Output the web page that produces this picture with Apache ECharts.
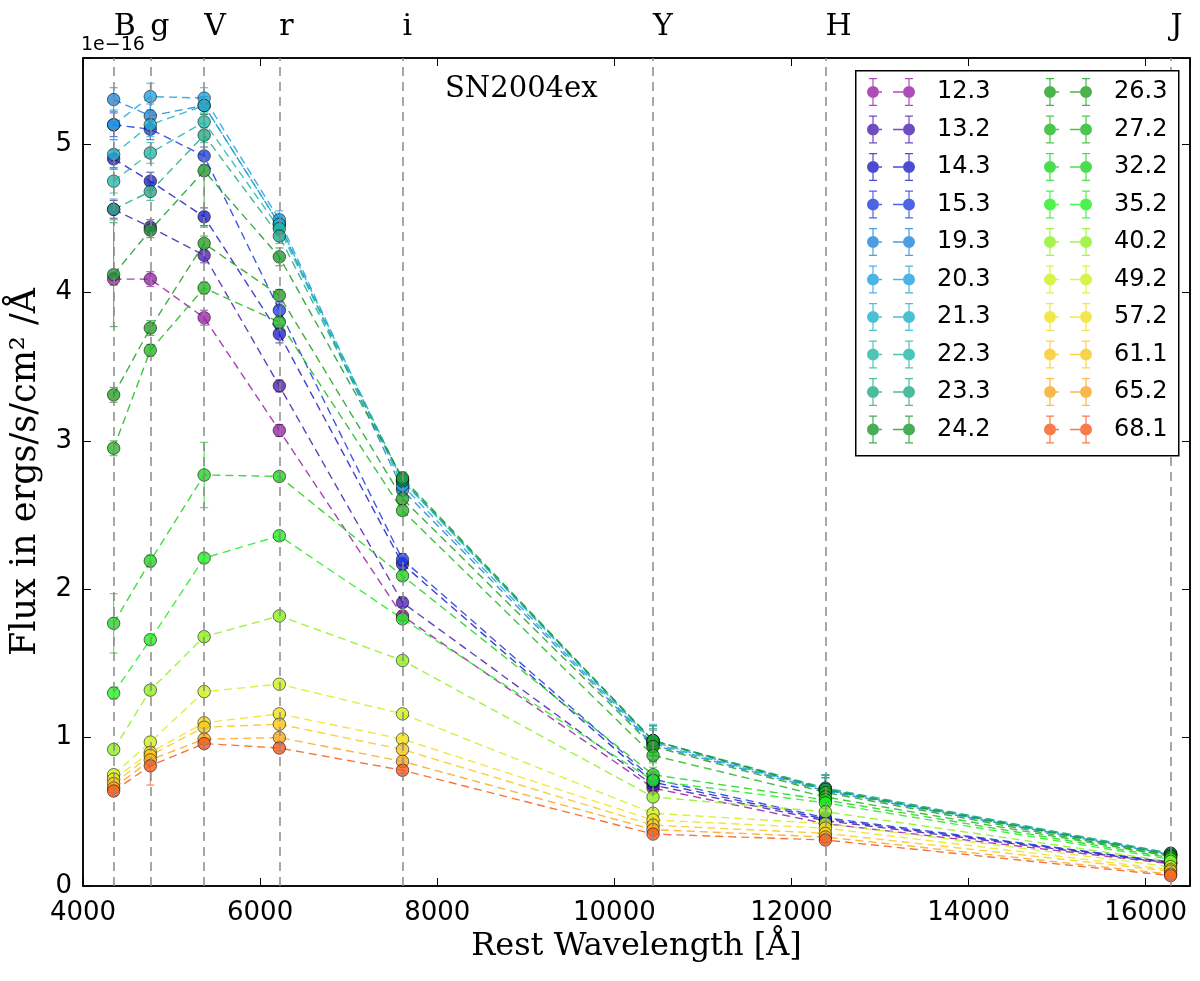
<!DOCTYPE html>
<html>
<head>
<meta charset="utf-8">
<title>SN2004ex</title>
<script src="https://cdn.jsdelivr.net/npm/echarts@6/dist/echarts.min.js"></script>
<style>
  html, body { margin: 0; padding: 0; background: #fff; }
  #chart { width: 1200px; height: 981px; }
</style>
</head>
<body>
<div id="chart"></div>
<script>
document.addEventListener('DOMContentLoaded', function() {

    // filters and their rest wavelengths (Angstrom)
    const bands = ['B', 'g', 'V', 'r', 'i', 'Y', 'H', 'J'];
    const bandWave = [4346, 4760, 5368, 6217, 7608, 10437, 12383, 16281];

    // epochs (days) shown in the legend
    const phases = ['12.3', '13.2', '14.3', '15.3', '19.3', '20.3', '21.3', '22.3', '23.3', '24.2',
                    '26.3', '27.2', '32.2', '35.2', '40.2', '49.2', '57.2', '61.1', '65.2', '68.1'];

    // flux per band, units of 1e-16 ergs/s/cm2/A  (B g V r i Y H J)
    const f12_3 = [4.09, 4.09, 3.83, 3.07, 1.82, 0.66, 0.42, 0.15];
    const f13_2 = [4.56, 4.44, 4.25, 3.37, 1.91, 0.68, 0.44, 0.155];
    const f14_3 = [4.90, 4.75, 4.51, 3.72, 2.17, 0.70, 0.45, 0.16];
    const f15_3 = [5.13, 5.10, 4.92, 3.88, 2.20, 0.72, 0.46, 0.16];
    const f19_3 = [5.30, 5.19, 5.26, 4.46, 2.67, 0.95, 0.64, 0.21];
    const f20_3 = [5.13, 5.32, 5.31, 4.49, 2.70, 0.96, 0.645, 0.21];
    const f21_3 = [4.93, 5.13, 5.26, 4.46, 2.73, 0.97, 0.65, 0.215];
    const f22_3 = [4.75, 4.94, 5.15, 4.43, 2.73, 0.98, 0.655, 0.22];
    const f23_3 = [4.56, 4.68, 5.06, 4.38, 2.74, 0.98, 0.66, 0.22];
    const f24_2 = [4.12, 4.42, 4.82, 4.24, 2.75, 0.98, 0.65, 0.21];
    const f26_3 = [3.31, 3.76, 4.33, 3.98, 2.61, 0.94, 0.63, 0.20];
    const f27_2 = [2.95, 3.61, 4.03, 3.80, 2.53, 0.88, 0.60, 0.20];
    const f32_2 = [1.77, 2.19, 2.77, 2.76, 2.09, 0.75, 0.58, 0.19];
    const f35_2 = [1.30, 1.66, 2.21, 2.36, 1.80, 0.71, 0.56, 0.18];
    const f40_2 = [0.92, 1.32, 1.68, 1.82, 1.52, 0.60, 0.50, 0.165];
    const f49_2 = [0.75, 0.97, 1.31, 1.36, 1.16, 0.49, 0.42, 0.13];
    const f57_2 = [0.72, 0.90, 1.10, 1.16, 0.99, 0.445, 0.39, 0.11];
    const f61_1 = [0.69, 0.88, 1.07, 1.09, 0.92, 0.41, 0.355, 0.10];
    const f65_2 = [0.66, 0.85, 0.99, 1.00, 0.84, 0.38, 0.33, 0.08];
    const f68_1 = [0.64, 0.81, 0.96, 0.93, 0.78, 0.35, 0.31, 0.07];

    // 1-sigma errors, same units and order
    const e12_3 = [0.04, 0.05, 0.05, 0.04, 0.03, 0.04, 0.03, 0.01];
    const e13_2 = [0.06, 0.05, 0.05, 0.04, 0.03, 0.04, 0.03, 0.01];
    const e14_3 = [0.06, 0.06, 0.06, 0.06, 0.04, 0.04, 0.03, 0.01];
    const e15_3 = [0.08, 0.07, 0.06, 0.05, 0.04, 0.05, 0.03, 0.01];
    const e19_3 = [0.08, 0.08, 0.06, 0.05, 0.04, 0.10, 0.09, 0.02];
    const e20_3 = [0.10, 0.09, 0.07, 0.06, 0.04, 0.12, 0.10, 0.02];
    const e21_3 = [0.10, 0.08, 0.06, 0.06, 0.04, 0.12, 0.10, 0.02];
    const e22_3 = [0.08, 0.07, 0.06, 0.05, 0.04, 0.10, 0.09, 0.02];
    const e23_3 = [0.07, 0.06, 0.05, 0.05, 0.04, 0.10, 0.09, 0.02];
    const e24_2 = [0.35, 0.05, 0.38, 0.06, 0.04, 0.08, 0.08, 0.02];
    const e26_3 = [0.05, 0.05, 0.05, 0.04, 0.04, 0.06, 0.06, 0.02];
    const e27_2 = [0.05, 0.04, 0.04, 0.04, 0.03, 0.05, 0.05, 0.02];
    const e32_2 = [0.20, 0.04, 0.22, 0.03, 0.03, 0.05, 0.05, 0.01];
    const e35_2 = [0.04, 0.03, 0.03, 0.03, 0.03, 0.04, 0.04, 0.01];
    const e40_2 = [0.03, 0.03, 0.03, 0.02, 0.02, 0.02, 0.02, 0.01];
    const e49_2 = [0.03, 0.03, 0.03, 0.02, 0.02, 0.02, 0.02, 0.01];
    const e57_2 = [0.03, 0.03, 0.03, 0.02, 0.02, 0.02, 0.02, 0.01];
    const e61_1 = [0.03, 0.03, 0.03, 0.02, 0.02, 0.02, 0.02, 0.01];
    const e65_2 = [0.03, 0.03, 0.03, 0.02, 0.02, 0.02, 0.02, 0.01];
    const e68_1 = [0.03, 0.13, 0.03, 0.02, 0.02, 0.02, 0.02, 0.01];

    const colors = ['#9b1fa8', '#4b1fb0', '#1f1fc8', '#1f3de0', '#1f86d8', '#1fa0e0', '#1fb0c8',
                    '#1fb8a8', '#1faa85', '#1a9a2a', '#1fa01f', '#1fb81f', '#1fd41f', '#1ff01f',
                    '#8ef01f', '#cff01f', '#f0e01f', '#f8c81f', '#f8a81f', '#f85a1f'];

    const fluxes = [f12_3, f13_2, f14_3, f15_3, f19_3, f20_3, f21_3, f22_3, f23_3, f24_2,
                    f26_3, f27_2, f32_2, f35_2, f40_2, f49_2, f57_2, f61_1, f65_2, f68_1];
    const errors = [e12_3, e13_2, e14_3, e15_3, e19_3, e20_3, e21_3, e22_3, e23_3, e24_2,
                    e26_3, e27_2, e32_2, e35_2, e40_2, e49_2, e57_2, e61_1, e65_2, e68_1];

    const serif = 'DejaVu Serif';
    const sans = 'DejaVu Sans';

    // errorbar look-alike legend icon: marker, bar, caps, dash, marker
    const legendIcon = 'path://' +
        'M0,14a6,6 0 1,1 12,0a6,6 0 1,1 -12,0z' +
        'M36,14a6,6 0 1,1 12,0a6,6 0 1,1 -12,0z' +
        'M5.4,0.5h1.2v27h-1.2z M41.4,0.5h1.2v27h-1.2z' +
        'M2,0h8v1.2h-8z M2,26.8h8v1.2h-8z M38,0h8v1.2h-8z M38,26.8h8v1.2h-8z' +
        'M12,13.3h3v1.4h-3z M26,13.3h10v1.4h-10z';

    const renderErr = (params, api) => {
        const x = api.value(0);
        const lo = api.coord([x, api.value(1)]);
        const hi = api.coord([x, api.value(2)]);
        const style = { stroke: api.visual('color'), lineWidth: 1.2, opacity: 0.7 };
        return {
            type: 'group',
            children: [
                { type: 'line', shape: { x1: lo[0], y1: lo[1], x2: hi[0], y2: hi[1] }, style: style },
                { type: 'line', shape: { x1: lo[0] - 4, y1: lo[1], x2: lo[0] + 4, y2: lo[1] }, style: style },
                { type: 'line', shape: { x1: hi[0] - 4, y1: hi[1], x2: hi[0] + 4, y2: hi[1] }, style: style }
            ]
        };
    };

    const series = [{
        type: 'line',
        name: 'bands',
        data: [],
        silent: true,
        z: 1,
        markLine: {
            silent: true,
            symbol: ['none', 'none'],
            lineStyle: { color: '#8a8a8a', type: [9, 6], width: 1.5 },
            label: {
                show: true,
                position: 'end',
                formatter: '{b}',
                align: 'left',
                fontFamily: serif,
                fontSize: 30,
                color: '#000',
                distance: 16
            },
            emphasis: { disabled: true },
            data: bands.map((b, i) => ({ name: b, xAxis: bandWave[i] }))
        }
    }];

    phases.forEach((p, k) => {
        series.push({
            type: 'custom',
            name: p,
            renderItem: renderErr,
            encode: { x: 0, y: [1, 2] },
            itemStyle: { color: colors[k] },
            data: bandWave.map((w, j) => [w, fluxes[k][j] - errors[k][j], fluxes[k][j] + errors[k][j]]),
            silent: true,
            z: 2
        });
        series.push({
            type: 'line',
            name: p,
            data: bandWave.map((w, j) => [w, fluxes[k][j]]),
            symbol: 'circle',
            symbolSize: 12.5,
            itemStyle: { color: colors[k], opacity: 0.78, borderColor: 'rgba(0,0,0,0.7)', borderWidth: 1 },
            lineStyle: { color: colors[k], width: 1.4, type: [8, 5], opacity: 0.85 },
            emphasis: { disabled: true },
            silent: true,
            z: 3
        });
    });

    const legendBase = {
        orient: 'vertical',
        top: 78,
        padding: 0,
        itemWidth: 48,
        itemHeight: 28,
        itemGap: 9.5,
        icon: legendIcon,
        itemStyle: { opacity: 0.8, borderWidth: 0 },
        textStyle: { fontFamily: sans, fontSize: 24, color: '#000', padding: [0, 0, 0, 17] },
        selectedMode: false,
        z: 20
    };

    const chart = echarts.init(document.getElementById('chart'));
    chart.setOption({
        backgroundColor: '#fff',
        animation: false,
        title: [{
            text: 'SN2004ex',
            left: 445,
            top: 75,
            padding: 0,
            textStyle: { fontFamily: serif, fontSize: 29, fontWeight: 'normal', color: '#000' }
        }, {
            text: '1e\u221216',
            left: 81,
            top: 36,
            padding: 0,
            textStyle: { fontFamily: sans, fontSize: 19, fontWeight: 'normal', color: '#000' }
        }],
        grid: { left: 81, right: 10, top: 58, bottom: 95, show: true, borderColor: '#000', borderWidth: 1.5 },
        legend: [
            Object.assign({}, legendBase, { left: 867, data: phases.slice(0, 10) }),
            Object.assign({}, legendBase, { left: 1044, data: phases.slice(10) })
        ],
        graphic: [{
            type: 'rect',
            left: 855,
            top: 70,
            z: 15,
            shape: { width: 323, height: 385 },
            style: { fill: '#fff', stroke: '#000', lineWidth: 1.5 }
        }],
        xAxis: [{
            type: 'value',
            min: 4000,
            max: 16500,
            interval: 2000,
            axisLine: { show: true, onZero: false, lineStyle: { color: '#000', width: 1.5 } },
            axisTick: { inside: true, length: 8, lineStyle: { color: '#000' } },
            axisLabel: {
                fontFamily: sans, fontSize: 26, color: '#000', margin: 14,
                formatter: v => (v % 2000 === 0 ? String(v) : '')
            },
            splitLine: { show: false },
            name: 'Rest Wavelength [Å]',
            nameLocation: 'middle',
            nameGap: 37,
            nameTextStyle: { fontFamily: serif, fontSize: 32, color: '#000' }
        }, {
            type: 'value',
            position: 'top',
            min: 4000,
            max: 16500,
            interval: 2000,
            axisLine: { show: true, onZero: false, lineStyle: { color: '#000', width: 1.5 } },
            axisTick: { inside: true, length: 8, lineStyle: { color: '#000' } },
            axisLabel: { show: false },
            splitLine: { show: false }
        }],
        yAxis: [{
            type: 'value',
            min: 0,
            max: 5.58,
            interval: 1,
            axisLine: { show: true, onZero: false, lineStyle: { color: '#000', width: 1.5 } },
            axisTick: { inside: true, length: 8, lineStyle: { color: '#000' } },
            axisLabel: {
                fontFamily: sans, fontSize: 26, color: '#000', margin: 11,
                formatter: v => (Number.isInteger(v) ? String(v) : '')
            },
            splitLine: { show: false },
            name: 'Flux in ergs/s/cm² /Å',
            nameLocation: 'middle',
            nameRotate: 90,
            nameGap: 40,
            nameTextStyle: { fontFamily: serif, fontSize: 35, color: '#000' }
        }, {
            type: 'value',
            position: 'right',
            min: 0,
            max: 5.58,
            interval: 1,
            axisLine: { show: true, onZero: false, lineStyle: { color: '#000', width: 1.5 } },
            axisTick: { inside: true, length: 8, lineStyle: { color: '#000' } },
            axisLabel: { show: false },
            splitLine: { show: false }
        }],
        series: series
    });
});
</script>
</body>
</html>
